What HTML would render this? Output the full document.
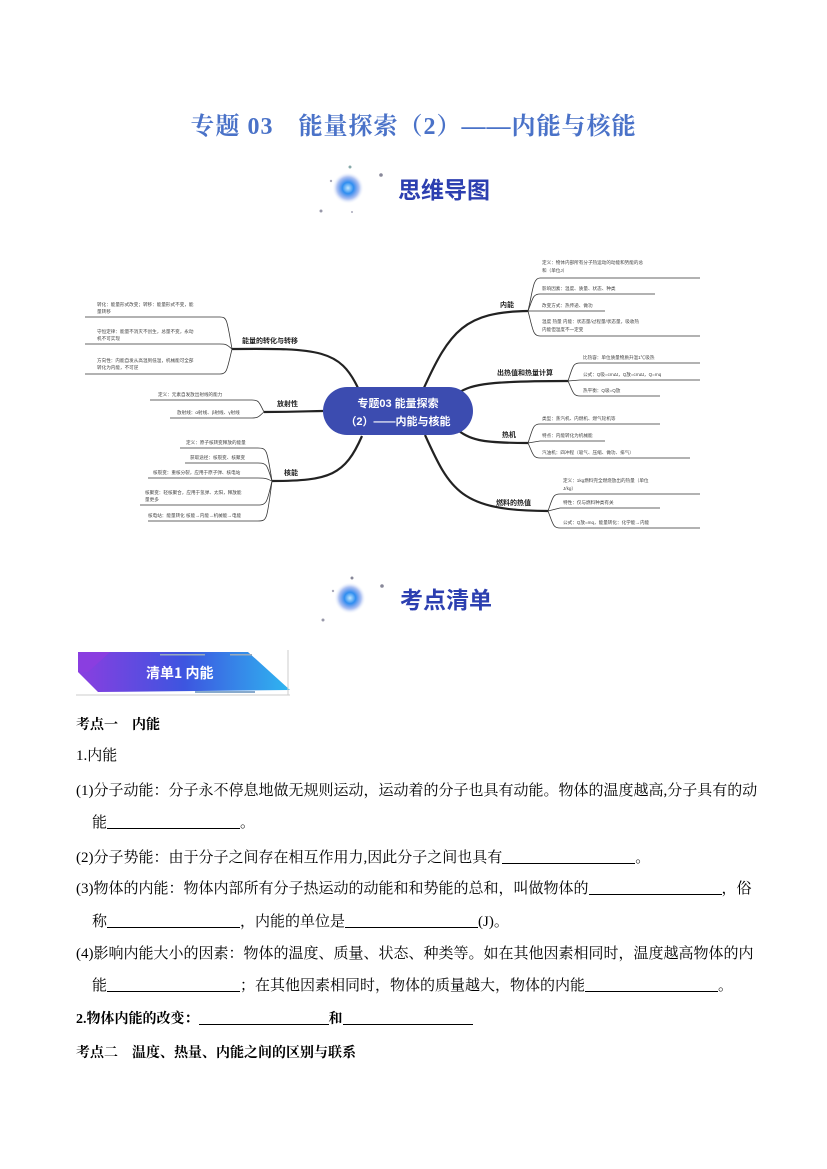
<!DOCTYPE html>
<html><head><meta charset="utf-8"><style>
body{margin:0;background:#fff;}
.page{position:relative;width:827px;height:1169px;overflow:hidden;font-family:"Liberation Serif","Noto Serif CJK SC","Noto Sans CJK SC",serif;color:#000;}
.t{position:absolute;white-space:nowrap;font-size:15px;}
.title{position:absolute;left:0;width:827px;top:106px;text-align:center;font-size:24px;font-weight:bold;color:#4a72c8;letter-spacing:1px;}
.u{display:inline-block;border-bottom:1px solid #000;height:14px;vertical-align:-2px;}
.b{font-weight:bold;font-size:14px;}
</style></head><body><div class="page">
<div class="title">专题 03　能量探索（2）——内能与核能</div>

<svg width="827" height="1169" style="position:absolute;left:0;top:0" font-family="Liberation Sans,Noto Sans CJK SC,sans-serif">
<defs>
<radialGradient id="g"><stop offset="0" stop-color="#bfe6ff"/><stop offset="0.35" stop-color="#2f8ef0"/><stop offset="0.7" stop-color="#3a6be0" stop-opacity="0.4"/><stop offset="1" stop-color="#fff" stop-opacity="0"/></radialGradient>
<linearGradient id="bn" x1="0" x2="1"><stop offset="0" stop-color="#8a3ee0"/><stop offset="0.5" stop-color="#3d55e0"/><stop offset="1" stop-color="#2fb6f0"/></linearGradient>
</defs>
<circle cx="348" cy="188" r="16" fill="url(#g)"/>
<circle cx="350" cy="167" r="1.5" fill="#8aa"/><circle cx="381" cy="175" r="1.8" fill="#889"/><circle cx="331" cy="181" r="1.2" fill="#aab"/><circle cx="321" cy="211" r="1.5" fill="#99a"/><circle cx="352" cy="212" r="1" fill="#aab"/>
<text x="398" y="198" font-size="23" font-weight="bold" fill="#2c3fb0" font-family="Noto Sans CJK SC,sans-serif">思维导图</text>
<circle cx="350" cy="598" r="16" fill="url(#g)"/>
<circle cx="352" cy="578" r="1.5" fill="#889"/><circle cx="382" cy="586" r="1.8" fill="#889"/><circle cx="333" cy="591" r="1.2" fill="#aab"/><circle cx="323" cy="620" r="1.5" fill="#99a"/>
<text x="400" y="608" font-size="23" font-weight="bold" fill="#2c3fb0" font-family="Noto Sans CJK SC,sans-serif">考点清单</text>

<g fill="none" stroke="#222" stroke-width="2.2">
<path d="M423 390 C450 330 465 312 528 311"/>
<path d="M455 395 C470 385 480 381 568 381"/>
<path d="M455 428 C470 440 480 443 528 443"/>
<path d="M425 435 C450 490 460 511 548 511"/>
<path d="M358 388 C340 350 320 348 232 349"/>
<path d="M323 411 C310 411 300 412 264 412"/>
<path d="M362 436 C345 475 330 481 272 481"/>
</g>
<g fill="none" stroke="#333" stroke-width="0.8">
<path d="M528 311 C533 290 533 278 540 278 L700 278"/><path d="M528 311 C533 298 533 294 540 294 L655 294"/><path d="M528 311 L540 311 L605 311"/><path d="M528 311 C533 330 533 336 540 336 L700 336"/>
<path d="M568 381 C573 366 573 363 580 363 L700 363"/><path d="M568 381 L580 380 L700 380"/><path d="M568 381 C573 392 573 396 580 396 L660 396"/>
<path d="M528 443 C533 428 533 424 540 424 L660 424"/><path d="M528 443 L540 441 L605 441"/><path d="M528 443 C533 454 533 458 540 458 L690 458"/>
<path d="M548 511 C553 497 553 494 560 494 L700 494"/><path d="M548 511 L560 508 L660 508"/><path d="M548 511 C553 524 553 528 560 528 L700 528"/>
<path d="M232 349 C227 320 227 317 220 317 L85 317"/><path d="M232 349 C227 345 227 344 220 344 L85 344"/><path d="M232 349 C227 370 227 374 220 374 L85 374"/>
<path d="M264 412 C259 402 259 400 252 400 L150 400"/><path d="M264 412 C259 416 259 418 252 418 L170 418"/>
<path d="M272 481 C267 450 267 448 258 448 L180 448"/><path d="M272 481 C267 465 267 463 258 463 L185 463"/><path d="M272 481 C267 479 267 478 258 478 L148 478"/><path d="M272 481 C267 502 267 505 258 505 L140 505"/><path d="M272 481 C267 520 267 521 258 521 L148 521"/>
</g>
<rect x="323" y="387" width="150" height="48" rx="24" fill="#3c4cb0"/>
<text x="398" y="407" font-size="11" font-weight="bold" fill="#fff" text-anchor="middle">专题03  能量探索</text>
<text x="398" y="425" font-size="11" font-weight="bold" fill="#fff" text-anchor="middle">（2）——内能与核能</text>
<g font-size="7" font-weight="bold" fill="#222">
<text x="500" y="307">内能</text><text x="497" y="375">出热值和热量计算</text><text x="502" y="437">热机</text><text x="496" y="505">燃料的热值</text>
<text x="242" y="343">能量的转化与转移</text><text x="277" y="406">放射性</text><text x="284" y="475">核能</text>
</g>
<g font-size="4.6" fill="#444">
<text x="542" y="264">定义：物体内部所有分子热运动的动能和势能的总</text><text x="542" y="272">和（单位J）</text>
<text x="542" y="290">影响因素：温度、质量、状态、种类</text>
<text x="542" y="307">改变方式：热传递、做功</text>
<text x="542" y="323">温度 热量 内能：状态量/过程量/状态量，吸收热</text><text x="542" y="331">内能但温度不一定变</text>
<text x="583" y="359">比热容：单位质量物质升温1℃吸热</text>
<text x="583" y="376">公式：Q吸=cmΔt，Q放=cmΔt，Q=mq</text>
<text x="583" y="392">热平衡：Q吸=Q放</text>
<text x="542" y="420">类型：蒸汽机、内燃机、燃气轮机等</text>
<text x="542" y="437">特点：内能转化为机械能</text>
<text x="542" y="454">汽油机：四冲程（吸气、压缩、做功、排气）</text>
<text x="563" y="482">定义：1kg燃料完全燃烧放出的热量（单位</text><text x="563" y="490">J/kg）</text>
<text x="563" y="504">特性：仅与燃料种类有关</text>
<text x="563" y="524">公式：Q放=mq，能量转化：化学能→内能</text>
<text x="97" y="306">转化：能量形式改变；转移：能量形式不变，能</text><text x="97" y="313">量转移</text>
<text x="97" y="333">守恒定律：能量不消灭不创生，总量不变，永动</text><text x="97" y="340">机不可实现</text>
<text x="97" y="362">方向性：内能自发从高温到低温，机械能可全部</text><text x="97" y="369">转化为内能，不可逆</text>
<text x="158" y="396">定义：元素自发放出射线的能力</text>
<text x="177" y="414">放射线：α射线、β射线、γ射线</text>
<text x="186" y="444">定义：原子核转变释放的能量</text>
<text x="190" y="459">获取途径：核裂变、核聚变</text>
<text x="153" y="474">核裂变：重核分裂，应用于原子弹、核电站</text>
<text x="145" y="494">核聚变：轻核聚合，应用于氢弹、太阳，释放能</text><text x="145" y="501">量更多</text>
<text x="148" y="517">核电站：能量转化 核能→内能→机械能→电能</text>
</g>
<polygon points="78,652 248,652 290,690 98,692 78,672" fill="url(#bn)"/>
<polygon points="78,652 110,652 88,672 78,672" fill="#8a3ee0"/>
<rect x="160" y="654" width="45" height="1.5" fill="#9ab"/><rect x="230" y="654" width="22" height="1.5" fill="#9ab"/>
<rect x="195" y="691" width="60" height="2" fill="#8ac"/>
<line x1="76" y1="695" x2="290" y2="695" stroke="#ccc" stroke-width="1"/>
<line x1="288" y1="650" x2="288" y2="695" stroke="#ccc" stroke-width="1"/>
<text x="146" y="678" font-size="14" font-weight="bold" fill="#fff" font-family="Noto Sans CJK SC,sans-serif">清单1  内能</text>
</svg>

<div class="t b" style="left:76px;top:714px">考点一　内能</div>
<div class="t" style="left:76px;top:744px">1.内能</div>
<div class="t" style="left:76px;top:779px">(1)分子动能：分子永不停息地做无规则运动，运动着的分子也具有动能。物体的温度越高,分子具有的动</div>
<div class="t" style="left:92px;top:811px">能<span class="u" style="width:133px"></span>。</div>
<div class="t" style="left:76px;top:846px">(2)分子势能：由于分子之间存在相互作用力,因此分子之间也具有<span class="u" style="width:133px"></span>。</div>
<div class="t" style="left:76px;top:877px">(3)物体的内能：物体内部所有分子热运动的动能和和势能的总和，叫做物体的<span class="u" style="width:133px"></span>，俗</div>
<div class="t" style="left:92px;top:910px">称<span class="u" style="width:133px"></span>，内能的单位是<span class="u" style="width:133px"></span>(J)。</div>
<div class="t" style="left:76px;top:942px">(4)影响内能大小的因素：物体的温度、质量、状态、种类等。如在其他因素相同时，温度越高物体的内</div>
<div class="t" style="left:92px;top:974px">能<span class="u" style="width:133px"></span>；在其他因素相同时，物体的质量越大，物体的内能<span class="u" style="width:133px"></span>。</div>
<div class="t b" style="left:76px;top:1008px">2.物体内能的改变：<span class="u" style="width:130px"></span>和<span class="u" style="width:130px"></span></div>
<div class="t b" style="left:76px;top:1042px">考点二　温度、热量、内能之间的区别与联系</div>
</div></body></html>
